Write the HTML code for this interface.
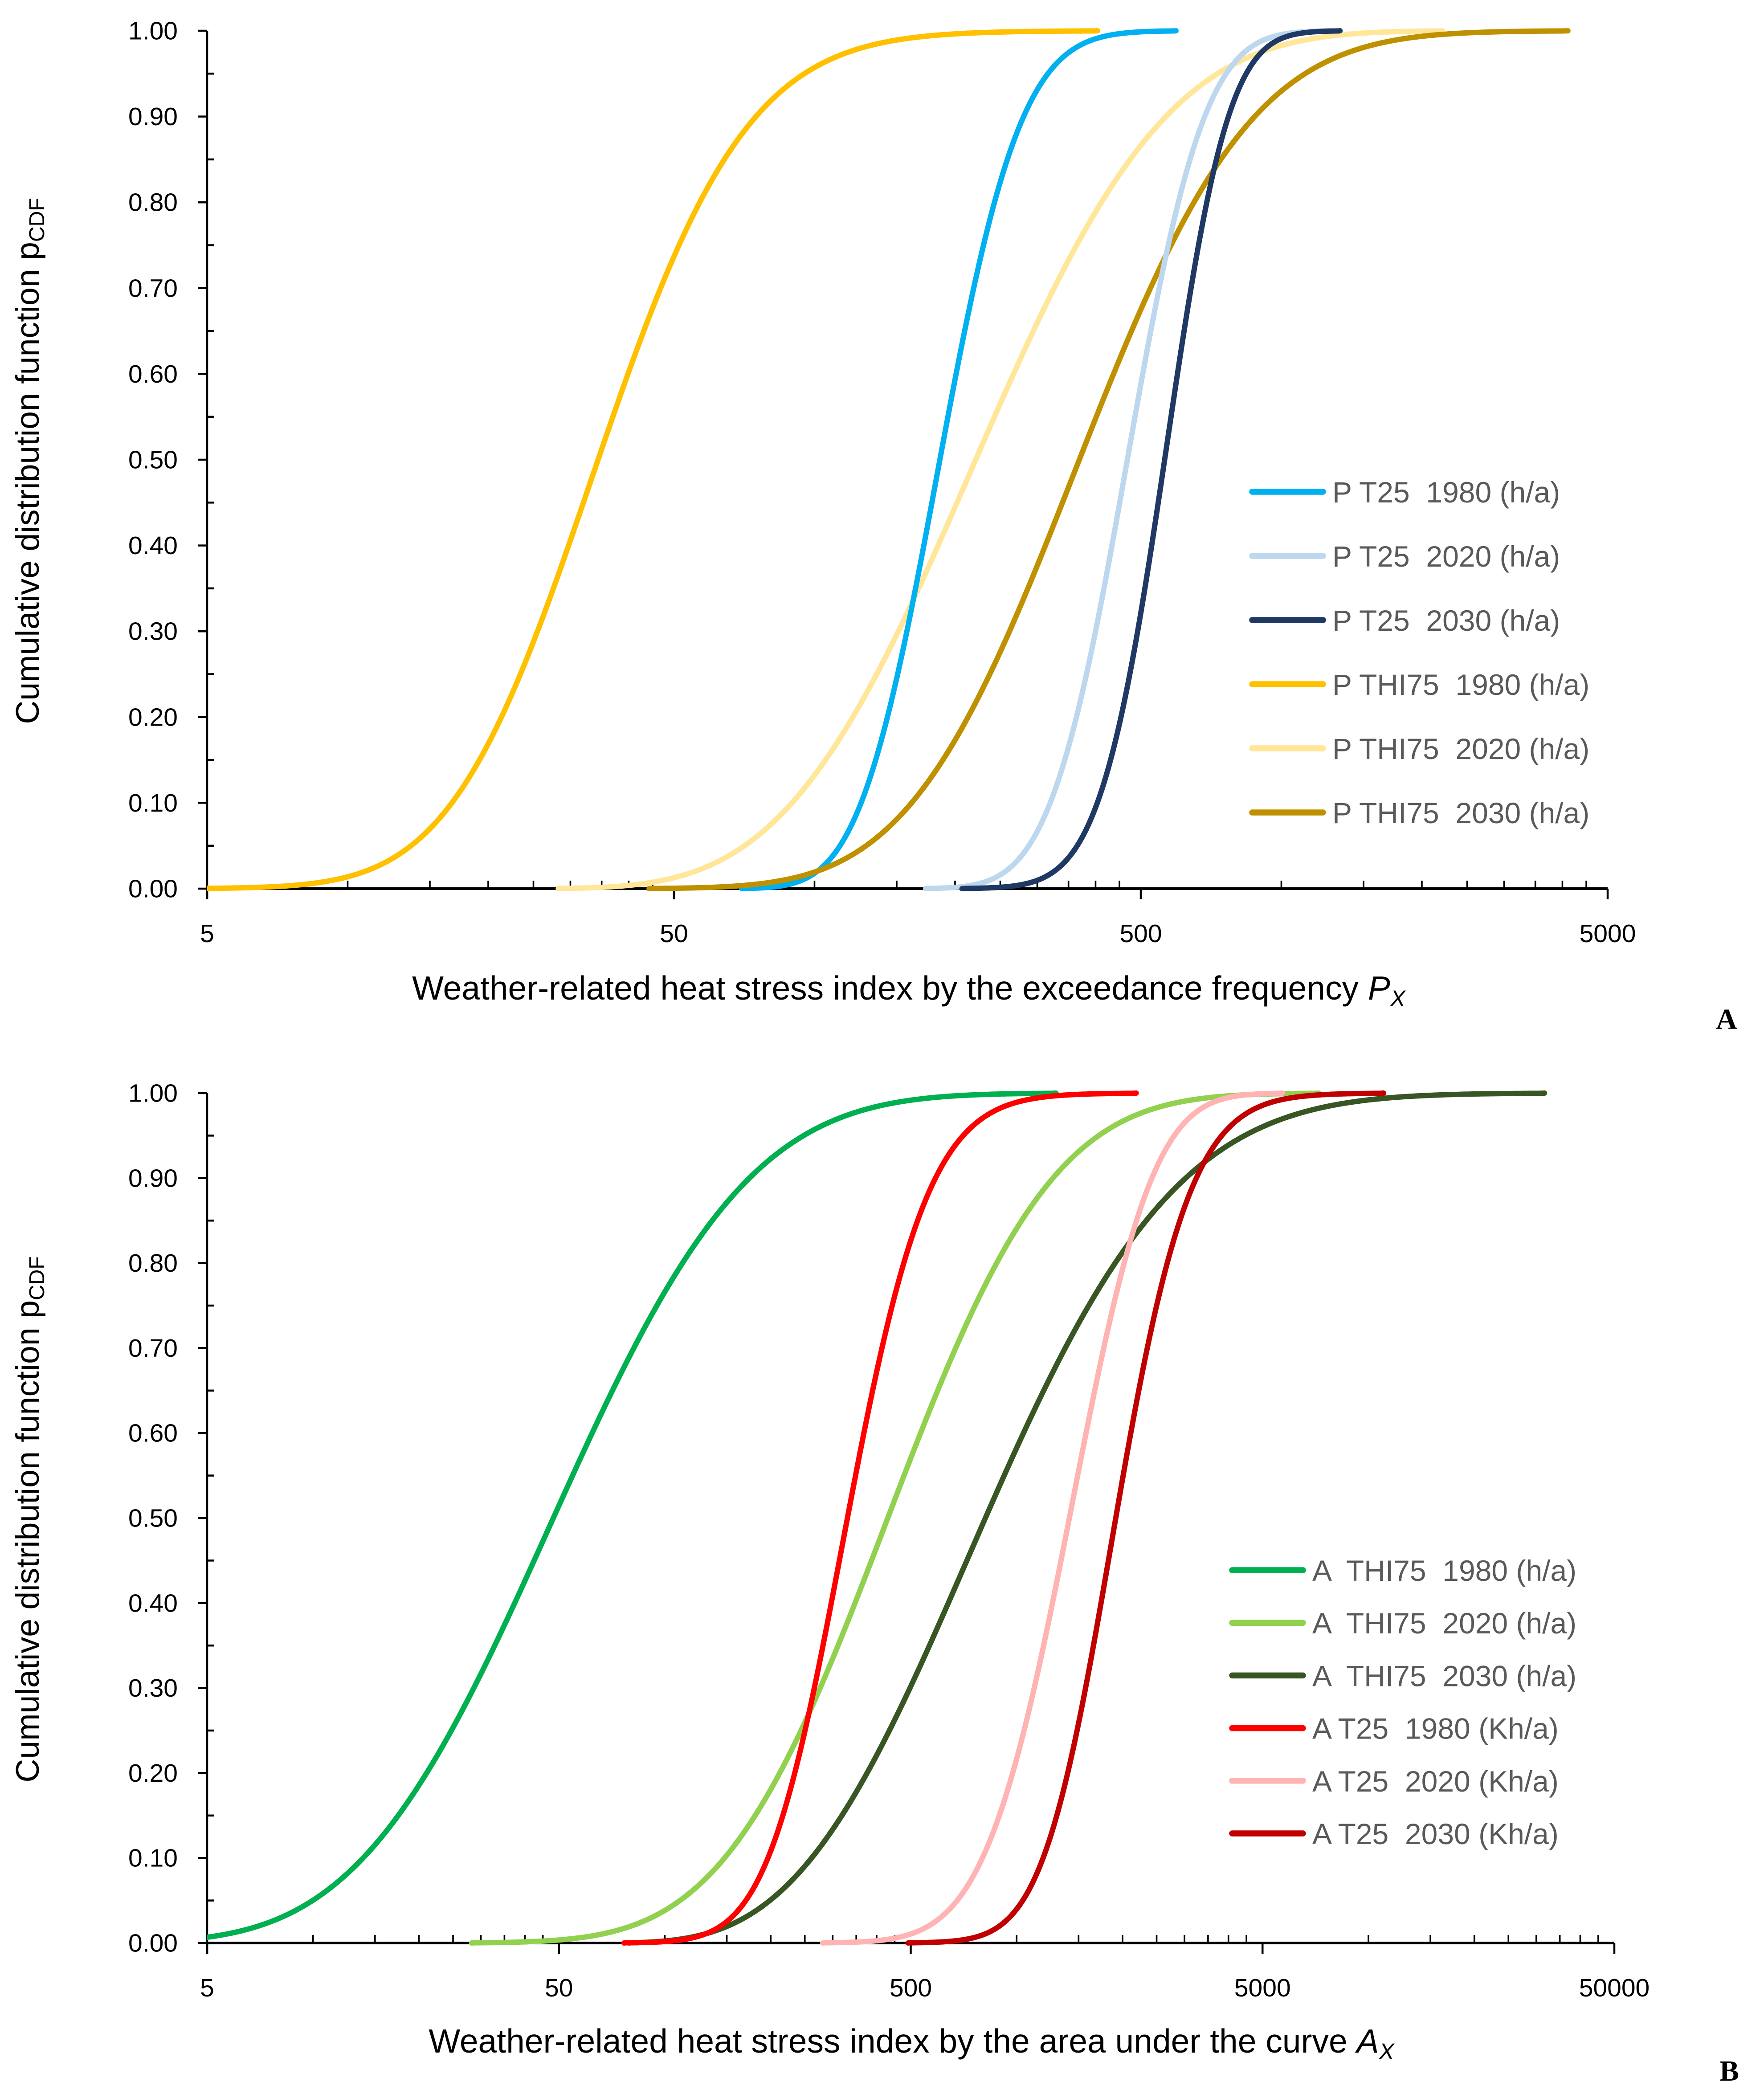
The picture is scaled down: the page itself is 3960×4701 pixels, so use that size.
<!DOCTYPE html>
<html><head><meta charset="utf-8"><style>
html,body{margin:0;padding:0;background:#fff;}
svg{display:block;}
text{font-family:"Liberation Sans",sans-serif;}
</style></head><body>
<svg id="chart" width="3960" height="4701" viewBox="0 0 1320 1567" xmlns="http://www.w3.org/2000/svg"></svg>
<script>
// Shared cumulative probability levels (ends = visible start/finish of each curve)
const pLevels = [0.0002, 0.01, 0.05, 0.1, 0.2, 0.3, 0.5, 0.7, 0.8, 0.9, 0.95, 0.99, 0.9998];

// Panel A series (x values at pLevels)
const seriesANames = ["P T25  1980 (h/a)","P T25  2020 (h/a)","P T25  2030 (h/a)","P THI75  1980 (h/a)","P THI75  2020 (h/a)","P THI75  2030 (h/a)"];
const seriesAColors = ["#00b0f0","#bdd7ee","#1f3864","#ffc000","#ffe699","#bf9000"];
const pT25_1980 = [72, 88, 111, 126, 147, 163, 189, 218, 245, 288, 318, 363, 615];
const pT25_2020 = [170, 245, 288, 329, 363, 395, 457, 528, 576, 702, 800, 944, 1250];
const pT25_2030 = [207, 298, 363, 406, 467, 508, 557, 615, 665, 764, 855, 1042, 1312];
const pTHI_1980 = [5, 7.4, 13, 17, 23, 29, 38, 46.5, 56, 70, 94, 140, 428];
const pTHI_2020 = [28.7, 45.5, 72, 88, 122, 154, 229, 329, 401, 557, 724, 1150, 2222];
const pTHI_2030 = [45.5, 82, 122, 159, 221, 279, 387, 528, 656, 828, 1076, 1824, 4160];
const seriesAValues = [pT25_1980, pT25_2020, pT25_2030, pTHI_1980, pTHI_2020, pTHI_2030];
const drawOrderA = [3, 4, 0, 5, 1, 2];

// Panel B series
const seriesBNames = ["A  THI75  1980 (h/a)","A  THI75  2020 (h/a)","A  THI75  2030 (h/a)","A T25  1980 (Kh/a)","A T25  2020 (Kh/a)","A T25  2030 (Kh/a)"];
const seriesBColors = ["#00b050","#92d050","#375623","#ff0000","#ffb3b3","#c00000"];
const aTHI_1980 = [2.5, 4.9, 10.1, 14.3, 22.1, 30, 50.8, 78.6, 107, 166, 245, 493, 1291];
const aTHI_2020 = [30, 55, 112, 151, 224, 292, 444, 670, 871, 1236, 1678, 2839, 7430];
const aTHI_2030 = [79, 122, 206, 272, 396, 515, 798, 1236, 1754, 2964, 4590, 10540, 30100];
const aT25_1980 = [79, 117, 173, 200, 241, 272, 333, 414, 472, 587, 700, 993, 2220];
const aT25_2020 = [292, 432, 700, 834, 1020, 1164, 1410, 1709, 1963, 2381, 2839, 3690, 5710];
const aT25_2030 = [493, 798, 1037, 1183, 1410, 1607, 1914, 2340, 2647, 3178, 3854, 5468, 11000];
const seriesBValues = [aTHI_1980, aTHI_2020, aTHI_2030, aT25_1980, aT25_2020, aT25_2030];
const drawOrderB = [0, 1, 2, 3, 4, 5];

const yTickLabels = ["0.00","0.10","0.20","0.30","0.40","0.50","0.60","0.70","0.80","0.90","1.00"];
const xTicksA = [5, 50, 500, 5000];
const xTicksB = [5, 50, 500, 5000, 50000];

const NS = "http://www.w3.org/2000/svg";
const svg = document.getElementById("chart");
function mk(tag, attrs, parent) {
  const e = document.createElementNS(NS, tag);
  for (const k in attrs) e.setAttribute(k, attrs[k]);
  (parent || svg).appendChild(e);
  return e;
}

function erf(x) {
  const s = x < 0 ? -1 : 1; x = Math.abs(x);
  const t = 1 / (1 + 0.3275911 * x);
  const y = 1 - (((((1.061405429*t - 1.453152027)*t) + 1.421413741)*t - 0.284496736)*t + 0.254829592)*t*Math.exp(-x*x);
  return s * y;
}
function Phi(z) { return 0.5 * (1 + erf(z / Math.SQRT2)); }
function probit(p) {
  let lo = -8, hi = 8;
  for (let i = 0; i < 80; i++) { const m = (lo + hi) / 2; if (Phi(m) < p) lo = m; else hi = m; }
  return (lo + hi) / 2;
}

// least-squares cubic fit of log10(value) against probit(p)
function fitCubic(zs, ys) {
  const K = 4, A = [], B = [];
  for (let i = 0; i < K; i++) { A.push(new Array(K).fill(0)); B.push(0); }
  for (let n = 0; n < zs.length; n++) {
    const pw = [1, zs[n], zs[n]*zs[n], zs[n]*zs[n]*zs[n]];
    for (let i = 0; i < K; i++) { B[i] += pw[i]*ys[n]; for (let j = 0; j < K; j++) A[i][j] += pw[i]*pw[j]; }
  }
  for (let i = 0; i < K; i++) {
    let piv = i;
    for (let r = i+1; r < K; r++) if (Math.abs(A[r][i]) > Math.abs(A[piv][i])) piv = r;
    [A[i], A[piv]] = [A[piv], A[i]]; [B[i], B[piv]] = [B[piv], B[i]];
    for (let r = 0; r < K; r++) {
      if (r === i) continue;
      const f = A[r][i] / A[i][i];
      for (let c = i; c < K; c++) A[r][c] -= f * A[i][c];
      B[r] -= f * B[i];
    }
  }
  const c = B.map((b, i) => b / A[i][i]);
  return z => c[0] + c[1]*z + c[2]*z*z + c[3]*z*z*z;
}

const zLevels = pLevels.map(probit);

function panel(cfg) {
  const g = mk("g", {});
  
  
  const lmin = Math.log10(cfg.xmin), lmax = Math.log10(cfg.xmax);
  const xs = v => cfg.x0 + (Math.log10(v) - lmin) / (lmax - lmin) * (cfg.x1 - cfg.x0);
  const ys = p => cfg.y0 - p * (cfg.y0 - cfg.y1);
  const clipId = cfg.name + "-clip";
  const defs = mk("defs", {}, g);
  const cp = mk("clipPath", {id: clipId}, defs);
  mk("rect", {x: cfg.x0, y: cfg.y1 - 10, width: cfg.x1 - cfg.x0 + 5, height: cfg.y0 - cfg.y1 + 20}, cp);

  for (let i = 0; i < yTickLabels.length; i++) {
    const y = ys(i / 10);
    const t = mk("line", {x1: cfg.x0 - 7, x2: cfg.x0, y1: y, y2: y, stroke: "#000", "stroke-width": 1.5}, g);
    
    
    const lb = mk("text", {x: cfg.x0 - 22, y: y + 6.5, "text-anchor": "end", "font-size": 19, fill: "#000"}, g);
    lb.textContent = yTickLabels[i];
    
    
    if (i < 10) {
      const ym = ys(i / 10 + 0.05);
      const mt = mk("line", {x1: cfg.x0, x2: cfg.x0 + 5, y1: ym, y2: ym, stroke: "#000", "stroke-width": 1.5}, g);
      
      
    }
  }
  for (let k = 0; k < cfg.xticks.length; k++) {
    const v = cfg.xticks[k], x = xs(v);
    const t = mk("line", {x1: x, x2: x, y1: cfg.y0, y2: cfg.y0 + 8, stroke: "#000", "stroke-width": 1.5}, g);
    
    
    const lb = mk("text", {x: x, y: cfg.y0 + 40, "text-anchor": "middle", "font-size": 19, fill: "#000"}, g);
    lb.textContent = String(v);
    
    
    if (k < cfg.xticks.length - 1) {
      for (let j = 2; j <= 9; j++) {
        const xm = xs(v * j);
        const mt = mk("line", {x1: xm, x2: xm, y1: cfg.y0 - 6, y2: cfg.y0, stroke: "#000", "stroke-width": 1.2}, g);
        
        
      }
    }
  }
  const ya = mk("line", {x1: cfg.x0, x2: cfg.x0, y1: cfg.y1, y2: cfg.y0 + 8, stroke: "#000", "stroke-width": 1.5}, g);
  
  
  const xa = mk("line", {x1: cfg.x0, x2: cfg.x1, y1: cfg.y0, y2: cfg.y0, stroke: "#000", "stroke-width": 2}, g);
  
  

  const lg = mk("g", {"clip-path": "url(#" + clipId + ")"}, g);
  const z0 = zLevels[0], z1 = zLevels[zLevels.length - 1];
  for (const si of cfg.order) {
    const vals = cfg.values[si];
    const f = fitCubic(zLevels, vals.map(v => Math.log10(v)));
    let d = "";
    const N = 500;
    for (let s = 0; s <= N; s++) {
      const z = z0 + (z1 - z0) * s / N;
      const p = s === 0 ? 0 : (s === N ? 1 : Phi(z));
      const x = xs(Math.pow(10, f(z))), y = ys(p);
      d += (s ? "L" : "M") + x.toFixed(2) + " " + y.toFixed(2);
    }
    const path = mk("path", {d: d, fill: "none", stroke: cfg.colors[si], "stroke-width": 4, "stroke-linejoin": "round", "stroke-linecap": "round"}, lg);
    
    
  }

  const leg = mk("g", {}, g);
  
  
  for (let i = 0; i < cfg.names.length; i++) {
    const y = cfg.legY + i * cfg.legDy;
    const ln = mk("line", {x1: cfg.legX, x2: cfg.legX + 53, y1: y, y2: y, stroke: cfg.colors[i], "stroke-width": 4.5, "stroke-linecap": "round"}, leg);
    
    
    const tx = mk("text", {x: cfg.legX + 60, y: y + 8, "font-size": 22, fill: "#595959", "xml:space": "preserve", style: "white-space:pre"}, leg);
    tx.textContent = cfg.names[i];
    
    
  }

  const yt = mk("text", {x: 0, y: 0, "font-size": 24.5, fill: "#000", "text-anchor": "middle", transform: "translate(29," + cfg.yTitleY + ") rotate(-90)"}, g);
  
  
  yt.appendChild(document.createTextNode("Cumulative distribution function p"));
  const sub = mk("tspan", {"font-size": 16, dy: 4}, yt);
  sub.textContent = "CDF";

  const xt = mk("text", {x: cfg.xTitleX, y: cfg.xTitleY, "font-size": 25, fill: "#000", "text-anchor": "middle"}, g);
  
  
  xt.appendChild(document.createTextNode(cfg.xTitle + " "));
  const it = mk("tspan", {"font-style": "italic"}, xt);
  it.textContent = cfg.sym;
  const it2 = mk("tspan", {"font-style": "italic", "font-size": 17, dy: 5}, xt);
  it2.textContent = "X";

  const pl = mk("text", {x: cfg.panelX, y: cfg.panelY, "font-size": 22, "font-weight": "bold", fill: "#000", "text-anchor": "middle", style: "font-family:'Liberation Serif',serif"}, g);
  pl.textContent = cfg.panelLabel;
  
  
}

panel({name: "panel-a", x0: 155, x1: 1203, y0: 665, y1: 23, xmin: 5, xmax: 5000, xticks: xTicksA,
  values: seriesAValues, colors: seriesAColors, names: seriesANames, order: drawOrderA,
  legX: 937, legY: 368, legDy: 48, yTitleY: 345, xTitleX: 680, xTitleY: 748,
  xTitle: "Weather-related heat stress index by the exceedance frequency", sym: "P",
  panelLabel: "A", panelX: 1292, panelY: 770});

panel({name: "panel-b", x0: 155, x1: 1208, y0: 1454, y1: 818, xmin: 5, xmax: 50000, xticks: xTicksB,
  values: seriesBValues, colors: seriesBColors, names: seriesBNames, order: drawOrderB,
  legX: 922, legY: 1175, legDy: 39.4, yTitleY: 1137, xTitleX: 682, xTitleY: 1536,
  xTitle: "Weather-related heat stress index by the area under the curve", sym: "A",
  panelLabel: "B", panelX: 1294, panelY: 1557});
</script>
</body></html>
